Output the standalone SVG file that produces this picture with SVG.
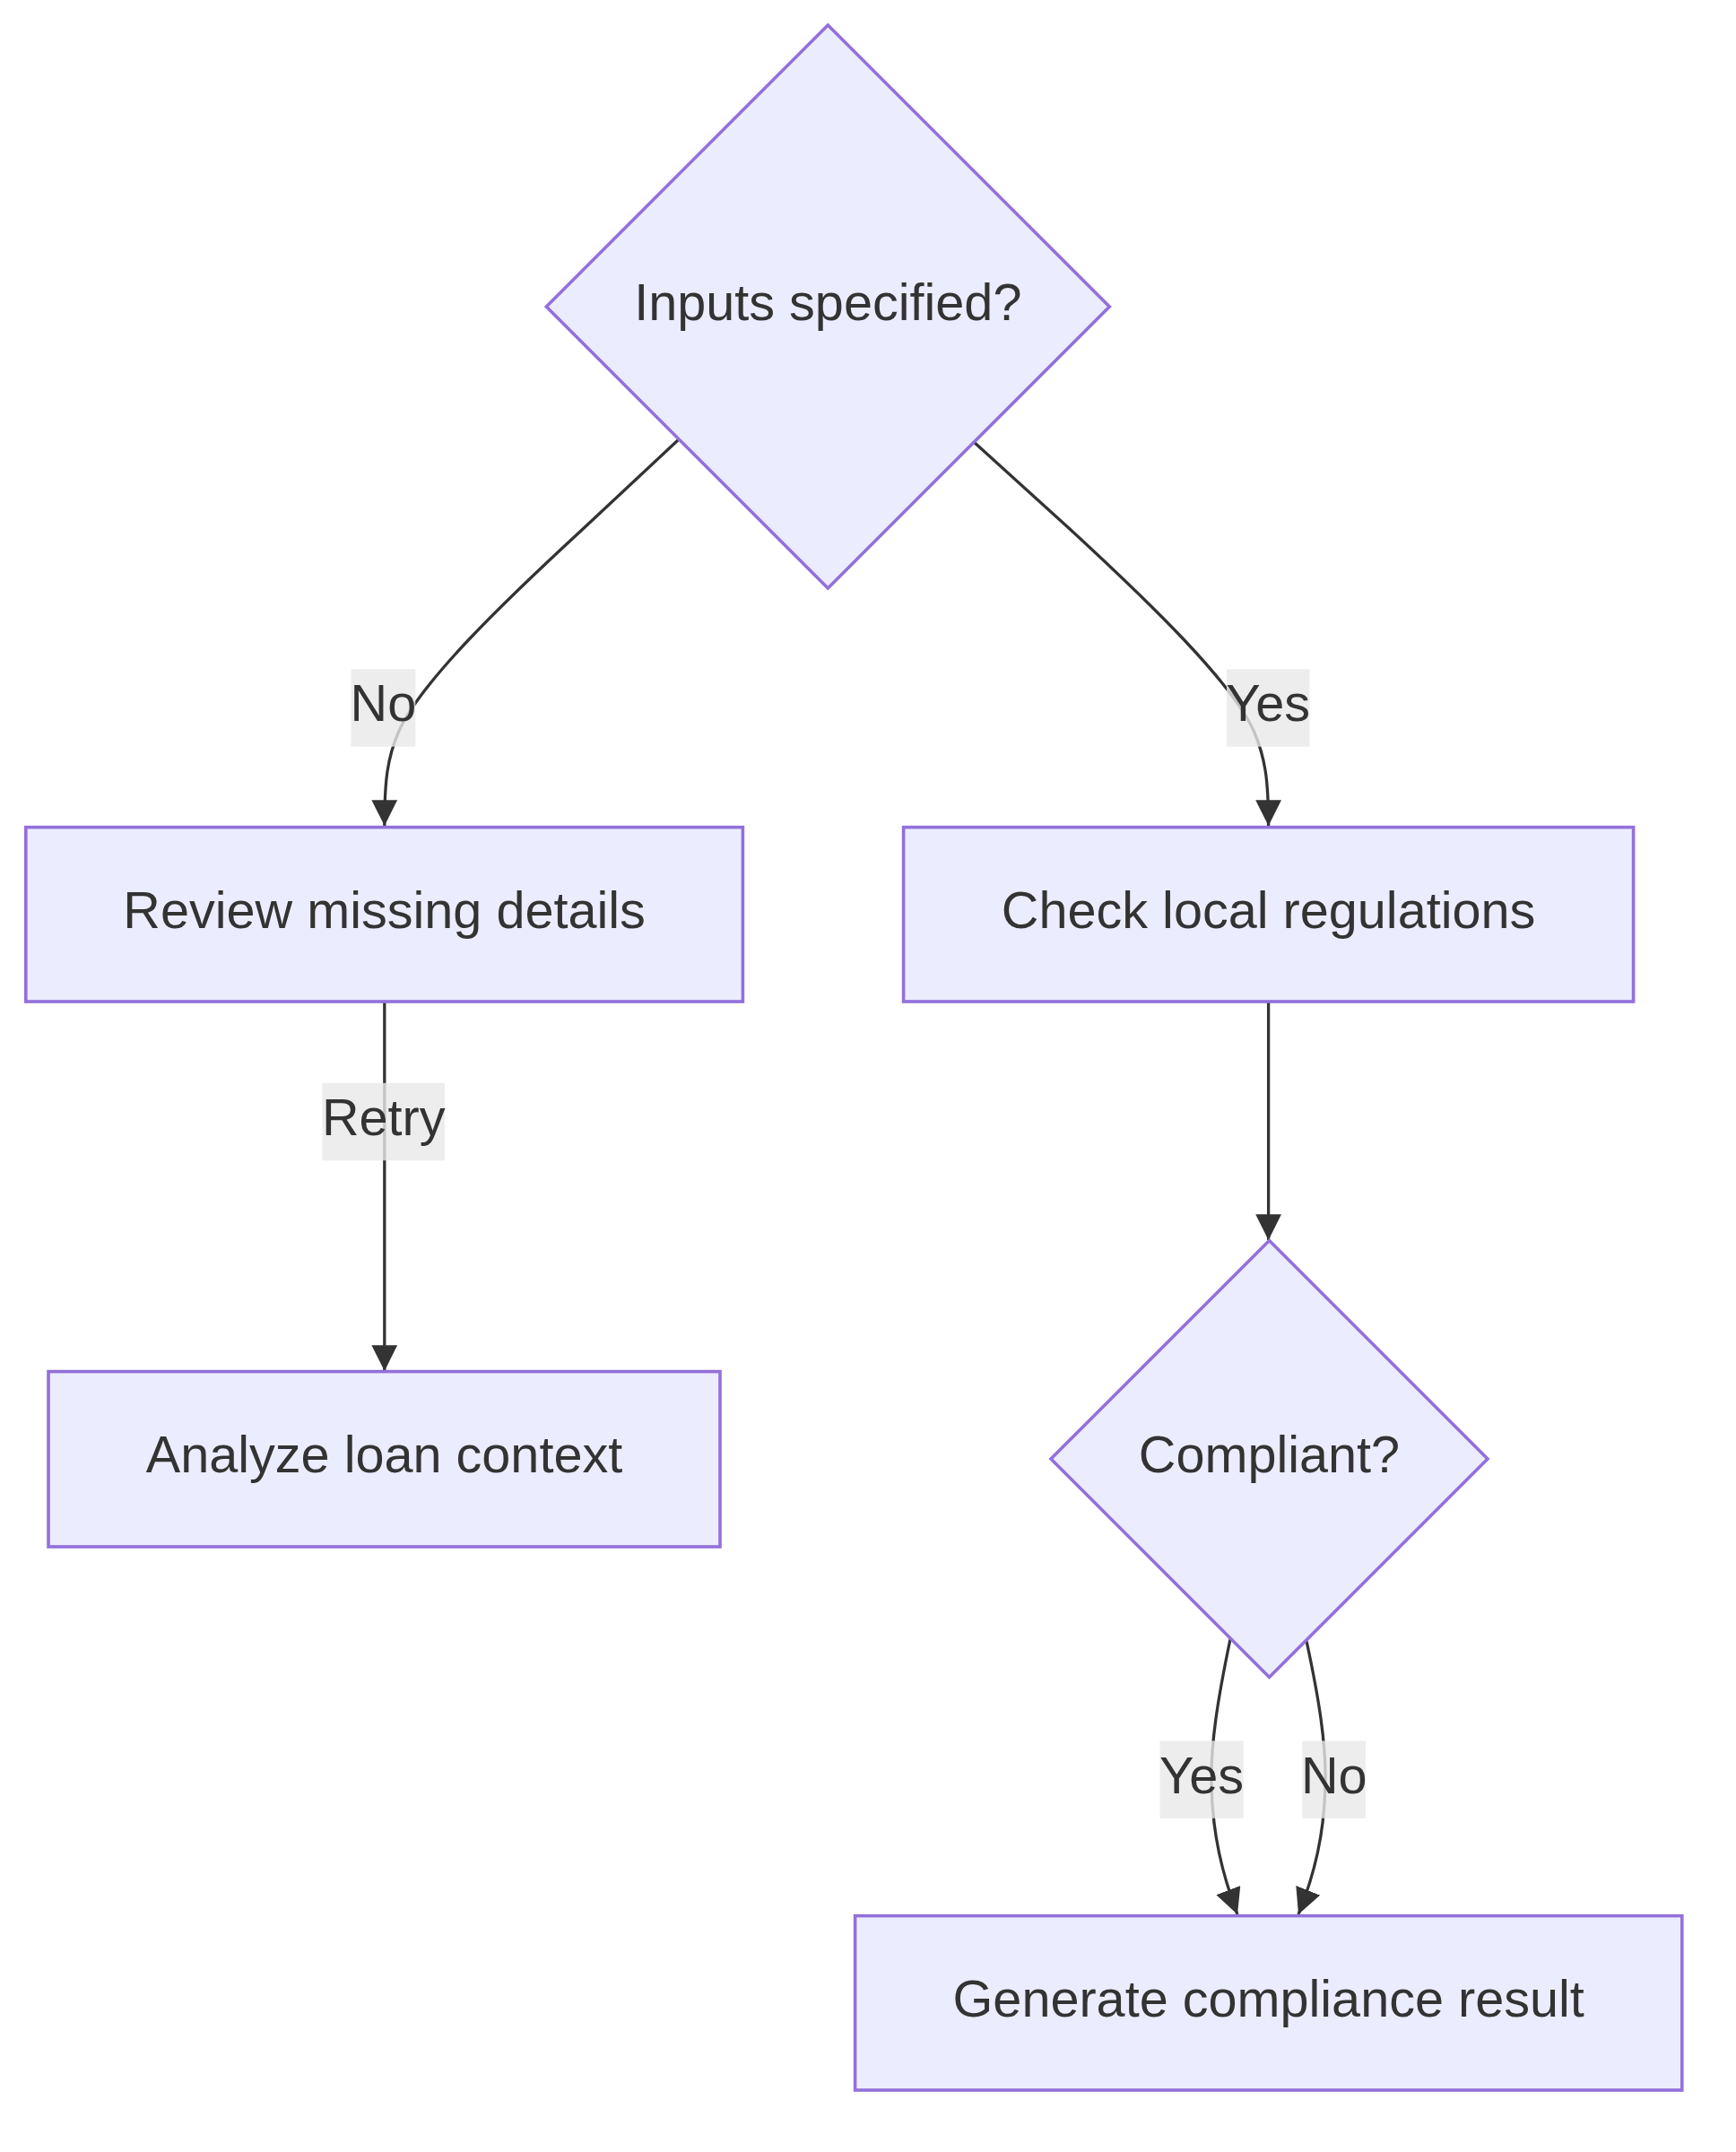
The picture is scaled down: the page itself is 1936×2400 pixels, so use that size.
<svg xmlns="http://www.w3.org/2000/svg" width="1936" height="2400" viewBox="0 0 1936 2400">
<style>
.node{fill:#ECECFF;stroke:#9370DB;stroke-width:3.6}
.edge{fill:none;stroke:#333333;stroke-width:3.3}
.lbl{fill:#e8e8e8;fill-opacity:0.8}
text{font-family:"Liberation Sans",Arial,Helvetica,sans-serif;font-size:57.6px;fill:#333333;text-anchor:middle}
</style>
<defs>
<marker id="arrow" viewBox="0 0 10 10" refX="10" refY="5" markerUnits="userSpaceOnUse" markerWidth="28.8" markerHeight="28.8" orient="auto">
<path d="M0,0 L10,5 L0,10 z" fill="#333333"/>
</marker>
</defs>
<rect width="1936" height="2400" fill="#ffffff"/>
<g id="connectors">
<path class="edge" marker-end="url(#arrow)" d="M757,490 L650,590 C560,673 470,760 445,815 C432,845 428.8,870 428.8,921"/>
<path class="edge" marker-end="url(#arrow)" d="M1086.1,493 L1193.1,590 C1283.1,673 1373.1,760 1398.1,815 C1411.1,845 1414.6,870 1414.6,921"/>
<path class="edge" marker-end="url(#arrow)" d="M428.8,1117 L428.8,1529"/>
<path class="edge" marker-end="url(#arrow)" d="M1414.6,1117 L1414.6,1383"/>
<path class="edge" marker-end="url(#arrow)" d="M1372,1828 C1358,1895 1350,1945 1351,1990 C1352,2045 1363,2090 1380,2135"/>
<path class="edge" marker-end="url(#arrow)" d="M1457,1830 C1471,1895 1479,1945 1478,1990 C1477,2045 1466,2090 1448,2135"/>
</g>
<g id="edge-labels">
<g id="label-no-1"><rect class="lbl" x="391.5" y="746.3" width="71.8" height="86.4"/><text x="427.4" y="804">No</text></g>
<g id="label-yes-1"><rect class="lbl" x="1368" y="746.3" width="92.5" height="86.4"/><text x="1414.2" y="804">Yes</text></g>
<g id="label-retry"><rect class="lbl" x="359.4" y="1207.8" width="136.6" height="86.4"/><text x="427.7" y="1266">Retry</text></g>
<g id="label-yes-2"><rect class="lbl" x="1293.5" y="1941.4" width="93.1" height="86.4"/><text x="1340" y="1999.6">Yes</text></g>
<g id="label-no-2"><rect class="lbl" x="1452.3" y="1941.4" width="70.7" height="86.4"/><text x="1487.7" y="1999.6">No</text></g>
</g>
<g id="node-inputs">
<polygon class="node" points="923.3,28 1237.3,342 923.3,656 609.3,342"/>
<text x="923.3" y="357">Inputs specified?</text>
</g>
<g id="node-review">
<rect class="node" x="28.8" y="922.6" width="799.6" height="194.4"/>
<text x="428.6" y="1034.5">Review missing details</text>
</g>
<g id="node-check">
<rect class="node" x="1007.6" y="922.6" width="814" height="194.4"/>
<text x="1414.6" y="1034.5">Check local regulations</text>
</g>
<g id="node-analyze">
<rect class="node" x="54" y="1529.6" width="749" height="195.4"/>
<text x="428.5" y="1642">Analyze loan context</text>
</g>
<g id="node-compliant">
<polygon class="node" points="1415.5,1383.5 1659,1627 1415.5,1870.5 1172,1627"/>
<text x="1415.5" y="1642">Compliant?</text>
</g>
<g id="node-generate">
<rect class="node" x="953.6" y="2136.6" width="922.2" height="194.4"/>
<text x="1414.7" y="2248.5">Generate compliance result</text>
</g>
</svg>
